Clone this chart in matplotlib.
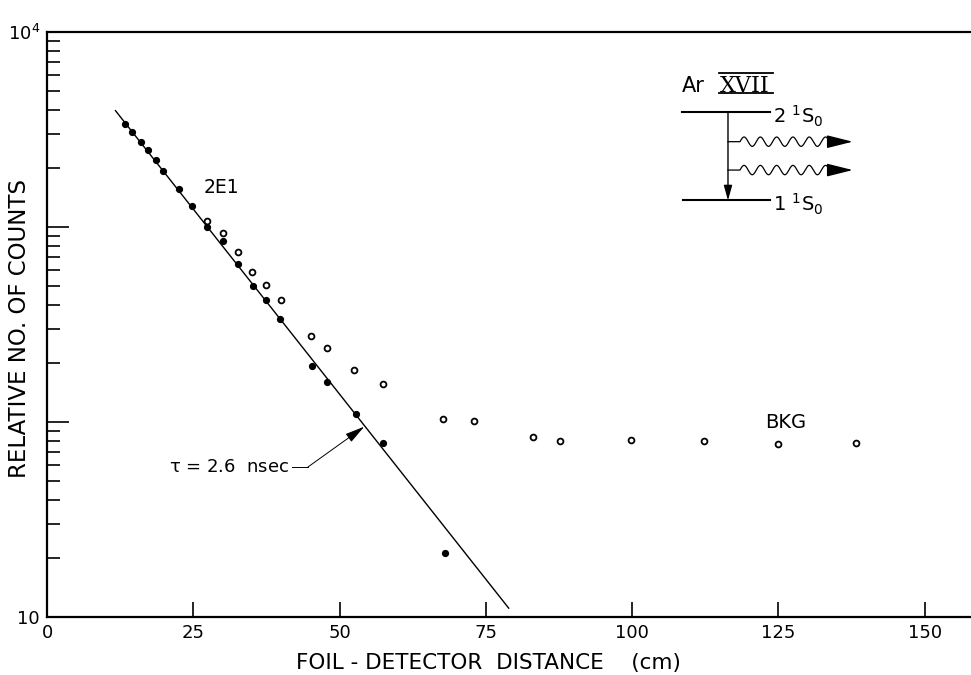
import matplotlib
matplotlib.use('Agg')
import matplotlib.pyplot as plt
import numpy as np

plt.rcParams['font.family'] = ['DejaVu Sans']
plt.rcParams['mathtext.default'] = 'regular'

# 2E1 衰变（实心点）
decay_x = [13.3, 14.6, 16.0, 17.3, 18.6, 19.9, 22.5, 24.7, 27.3, 30.0,
           32.6, 35.2, 37.4, 39.9, 45.2, 47.8, 52.8, 57.5, 68.0]
decay_y = [3380, 3070, 2730, 2470, 2200, 1940, 1560, 1280, 1000, 845,
           644, 500, 421, 339, 194, 160, 110, 78, 21.2]

# 总计数（空心点，含本底）
total_x = [27.4, 30.0, 32.6, 35.0, 37.4, 40.0, 45.1, 47.8, 52.5, 57.5,
           67.7, 73.0, 83.0, 87.7, 99.8, 112.3, 124.9, 138.2]
total_y = [1070, 935, 747, 588, 506, 422, 277, 239, 185, 157,
           103, 101, 84, 80, 81, 80, 77, 78]

# 拟合直线 tau = 2.6 nsec
fit_x = [11.7, 78.9]
fit_y = [3950, 11.1]

x_ticks = [0, 25, 50, 75, 100, 125, 150]
y_ticks = [10, 100, 1000, 10000]
y_ticklabels = ['10', '', '', r'$10^4$']

fig = plt.figure(figsize=(9.71, 6.75), dpi=100)
ax = fig.add_axes([47 / 971, 58 / 675, 924 / 971, 585 / 675])

ax.plot(fit_x, fit_y, color='k', lw=1.0)
ax.plot(decay_x, decay_y, 'o', color='k', ms=4.2, ls='none')
ax.plot(total_x, total_y, 'o', mfc='white', mec='k', mew=1.3, ms=4.2, ls='none')

ax.set_yscale('log')
ax.set_xlim(0, 157.9)
ax.set_ylim(10, 10000)

ax.set_xticks(x_ticks)
ax.set_xticklabels([str(v) for v in x_ticks])
ax.set_yticks(y_ticks)
ax.set_yticklabels(y_ticklabels)
ax.yaxis.set_minor_locator(matplotlib.ticker.LogLocator(base=10, subs=range(2, 10)))
ax.yaxis.set_minor_formatter(matplotlib.ticker.NullFormatter())

ax.tick_params(axis='x', which='major', direction='in', length=11, width=1.2,
               labelsize=13, pad=5)
ax.tick_params(axis='y', which='major', direction='in', length=16, width=1.2,
               labelsize=13, pad=5)
ax.tick_params(axis='y', which='minor', direction='in', length=9, width=1.2)

for s in ['top', 'left', 'bottom']:
    ax.spines[s].set_linewidth(1.6)
ax.spines['right'].set_visible(False)

ax.set_xlabel('FOIL - DETECTOR  DISTANCE    (cm)', fontsize=15.5)
ax.xaxis.set_label_coords(0.478, -0.062)
ax.set_ylabel('RELATIVE NO. OF COUNTS', fontsize=16.5)
ax.yaxis.set_label_coords(-0.017, 0.494)

# 标注
ax.text(26.8, 1585, '2E1', fontsize=13.5, va='center', ha='left')
ax.text(122.7, 99, 'BKG', fontsize=14, va='center', ha='left')
ax.text(41.3, 58.8, r'$\tau$ = 2.6  nsec', fontsize=13, va='center', ha='right')
ax.plot([41.8, 44.6], [58.8, 58.8], color='k', lw=0.7)
ax.annotate('', xy=(54.2, 94.6), xytext=(44.6, 58.8),
            arrowprops=dict(arrowstyle='-|>,head_length=1.2,head_width=0.3',
                            color='k', lw=0.7, shrinkA=0, shrinkB=0))

# 能级图 (axes fraction)
T = ax.transAxes
ax.text(0.687, 0.898, 'Ar', fontsize=15, transform=T, va='baseline', ha='left')
ax.text(0.7285, 0.897, 'XVII', fontsize=16, transform=T, va='baseline', ha='left',
        family='DejaVu Serif')
ax.plot([0.727, 0.786], [0.930, 0.930], transform=T, color='k', lw=1.3)
ax.plot([0.727, 0.786], [0.895, 0.895], transform=T, color='k', lw=1.3)

ax.plot([0.687, 0.782], [0.863, 0.863], transform=T, color='k', lw=1.5)
ax.plot([0.688, 0.782], [0.712, 0.712], transform=T, color='k', lw=1.5)
ax.text(0.786, 0.856, r'$2\ ^{1}S_{0}$', fontsize=14, transform=T, va='center', ha='left')
ax.text(0.786, 0.705, r'$1\ ^{1}S_{0}$', fontsize=14, transform=T, va='center', ha='left')

ax.annotate('', xy=(0.737, 0.712), xytext=(0.737, 0.863), xycoords=T,
            arrowprops=dict(arrowstyle='-|>,head_length=0.9,head_width=0.25',
                            color='k', lw=1.0, shrinkA=0, shrinkB=0))

for y0 in [0.8125, 0.764]:
    wx = np.linspace(0.750, 0.847, 200)
    wy = y0 + 0.0080 * np.sin((wx - 0.750) / 0.097 * 5.5 * 2 * np.pi)
    ax.plot(np.r_[0.737, wx], np.r_[y0, wy], transform=T, color='k', lw=0.9)
    ax.annotate('', xy=(0.872, y0), xytext=(0.847, y0), xycoords=T,
                arrowprops=dict(arrowstyle='-|>,head_length=1.6,head_width=0.4',
                                color='k', lw=1.0, shrinkA=0, shrinkB=0))

fig.savefig('out.png', dpi=100)
